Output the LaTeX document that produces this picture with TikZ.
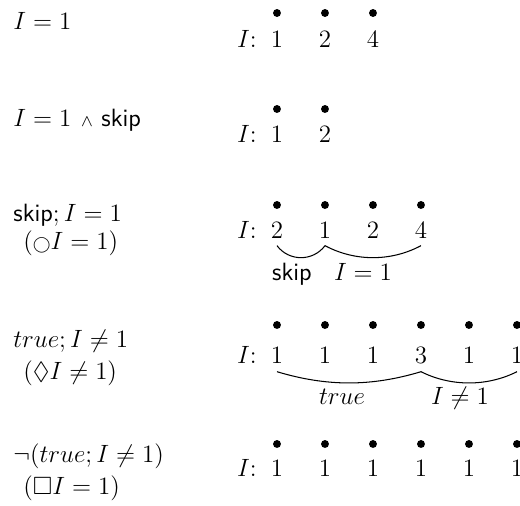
\documentclass[tikz,border=0pt]{standalone}
\usepackage{amssymb}

\begin{document}
\begin{tikzpicture}[
  x=0.48pt, y=-0.48pt,
  formula/.style={anchor=base west, inner sep=0pt, font=\large},
  val/.style={anchor=base, inner sep=0pt, font=\large},
  pt/.style={circle, fill, inner sep=0pt, minimum size=3.8pt},
  lbl/.style={anchor=base, inner sep=0pt, font=\large},
  brace/.style={line width=0.5pt},
]
\useasboundingbox (0,0) rectangle (520,506);

% Row 1: I = 1
\node[formula] (f1) at (13,30) {$I = 1$};
\node[val, anchor=base east] (s1) at (257,47) {$I$:};
\foreach \v [count=\i] in {1,2,4} {
  \node[val] (r1v\i) at ({277+48*(\i-1)},47) {$\v$};
  \node[pt] (r1p\i) at ({277+48*(\i-1)},13) {};
}

% Row 2: I = 1 and skip
\node[formula] (f2) at (13,127) {$I = 1 \mathbin{\,\scriptstyle\wedge\,} \textsf{skip}$};
\node[val, anchor=base east] (s2) at (257,143) {$I$:};
\foreach \v [count=\i] in {1,2} {
  \node[val] (r2v\i) at ({277+48*(\i-1)},143) {$\v$};
  \node[pt] (r2p\i) at ({277+48*(\i-1)},109) {};
}

% Row 3: next
\node[formula] (f3a) at (13,222) {$\textsf{skip}; I = 1$};
\node[formula] (f3b) at (23,250) {$({\scriptstyle\bigcirc} I = 1)$};
\node[val, anchor=base east] (s3) at (257,239) {$I$:};
\foreach \v [count=\i] in {2,1,2,4} {
  \node[val] (r3v\i) at ({277+48*(\i-1)},239) {$\v$};
  \node[pt] (r3p\i) at ({277+48*(\i-1)},205) {};
}
\draw[brace] ([yshift=-3pt]r3v1.south) .. controls +(12,16) and +(-12,16) .. ([yshift=-3pt]r3v2.south);
\draw[brace] ([yshift=-3pt]r3v2.south) .. controls +(30,16) and +(-30,16) .. ([yshift=-3pt]r3v4.south);
\node[lbl] (l3a) at (292,281) {\textsf{skip}};
\node[lbl] (l3b) at (363,281) {$I = 1$};

% Row 4: eventually
\node[formula] (f4a) at (13,348) {$true; I \neq 1$};
\node[formula] (f4b) at (23,380) {$(\Diamond I \neq 1)$};
\node[val, anchor=base east] (s4) at (257,364) {$I$:};
\foreach \v [count=\i] in {1,1,1,3,1,1} {
  \node[val] (r4v\i) at ({277+48*(\i-1)},364) {$\v$};
  \node[pt] (r4p\i) at ({277+48*(\i-1)},325) {};
}
\draw[brace] ([yshift=-3.5pt]r4v1.south) .. controls +(50,15) and +(-50,15) .. ([yshift=-3.5pt]r4v4.south);
\draw[brace] ([yshift=-3.5pt]r4v4.south) .. controls +(30,15) and +(-30,15) .. ([yshift=-3.5pt]r4v6.south);
\node[lbl] (l4a) at (342,405) {$true$};
\node[lbl] (l4b) at (460,405) {$I \neq 1$};

% Row 5: always
\node[formula] (f5a) at (13,463) {$\neg(true; I \neq 1)$};
\node[formula] (f5b) at (23,495) {$(\Box I = 1)$};
\node[val, anchor=base east] (s5) at (257,477) {$I$:};
\foreach \v [count=\i] in {1,1,1,1,1,1} {
  \node[val] (r5v\i) at ({277+48*(\i-1)},477) {$\v$};
  \node[pt] (r5p\i) at ({277+48*(\i-1)},444) {};
}

\end{tikzpicture}
\end{document}
